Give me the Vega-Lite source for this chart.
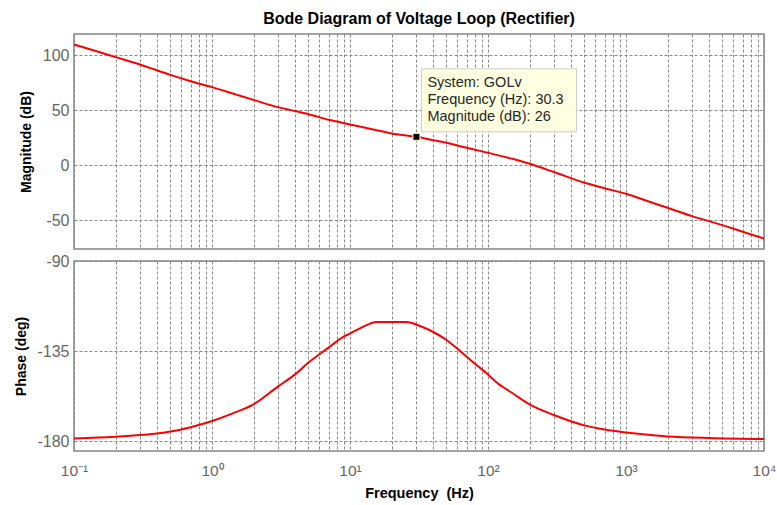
{
  "$schema": "https://vega.github.io/schema/vega-lite/v6.json",
  "background": "white",
  "padding": {"left": 13, "top": 10, "right": 0, "bottom": 0},
  "spacing": 12,
  "bounds": "flush",
  "datasets": {
    "magnitude": [
      {"f": 0.1, "mag": 110.0}, {"f": 0.15, "mag": 103.3}, {"f": 0.2, "mag": 98.5}, {"f": 0.3, "mag": 91.8},
      {"f": 0.5, "mag": 82.3}, {"f": 0.7, "mag": 76.6}, {"f": 1, "mag": 71.2}, {"f": 1.5, "mag": 64.4},
      {"f": 2, "mag": 59.6}, {"f": 3, "mag": 53.0}, {"f": 4, "mag": 49.5}, {"f": 5, "mag": 46.6},
      {"f": 7, "mag": 41.5}, {"f": 10, "mag": 37.3}, {"f": 15, "mag": 32.4}, {"f": 20, "mag": 29.1},
      {"f": 30.3, "mag": 26.0}, {"f": 40, "mag": 23.0}, {"f": 50, "mag": 20.6}, {"f": 70, "mag": 16.0},
      {"f": 100, "mag": 11.5}, {"f": 150, "mag": 6.0}, {"f": 200, "mag": 1.5}, {"f": 300, "mag": -6.0},
      {"f": 500, "mag": -15.8}, {"f": 700, "mag": -20.8}, {"f": 1000, "mag": -25.8}, {"f": 1500, "mag": -33.3},
      {"f": 2000, "mag": -38.5}, {"f": 3000, "mag": -46.1}, {"f": 5000, "mag": -54.3}, {"f": 7000, "mag": -60.3},
      {"f": 10000, "mag": -66.4}
    ],
    "phase": [
      {"f": 0.1, "ph": -178.7}, {"f": 0.2, "ph": -177.9}, {"f": 0.3, "ph": -177.0}, {"f": 0.4, "ph": -176.2},
      {"f": 0.5, "ph": -175.2}, {"f": 0.6, "ph": -174.2}, {"f": 0.8, "ph": -172.0}, {"f": 1, "ph": -170.0},
      {"f": 1.4, "ph": -166.3}, {"f": 2, "ph": -161.7}, {"f": 3, "ph": -152.8}, {"f": 4, "ph": -146.7},
      {"f": 5, "ph": -140.8}, {"f": 7, "ph": -133.3}, {"f": 9, "ph": -127.8}, {"f": 10, "ph": -126.3},
      {"f": 12, "ph": -123.4}, {"f": 15.6, "ph": -120.5}, {"f": 25.8, "ph": -120.5}, {"f": 32.1, "ph": -122.5},
      {"f": 40.2, "ph": -125.5}, {"f": 50, "ph": -129.5}, {"f": 62.7, "ph": -135.0}, {"f": 78.4, "ph": -140.8},
      {"f": 100, "ph": -146.7}, {"f": 118, "ph": -151.3}, {"f": 150, "ph": -156.0}, {"f": 200, "ph": -161.7},
      {"f": 300, "ph": -167.0}, {"f": 500, "ph": -172.2}, {"f": 700, "ph": -174.3}, {"f": 1000, "ph": -175.8},
      {"f": 2000, "ph": -177.7}, {"f": 4000, "ph": -178.5}, {"f": 10000, "ph": -179.0}
    ],
    "datatip": [
      {"f": 30.3, "mag": 26, "label": "System: GOLv\nFrequency (Hz): 30.3\nMagnitude (dB): 26"}
    ]
  },
  "config": {
    "font": "Liberation Sans",
    "view": {"stroke": "#858585", "strokeWidth": 1.5},
    "axis": {
      "domain": false,
      "grid": true,
      "gridColor": "#8a8a8a",
      "gridDash": [3, 2],
      "gridOpacity": 1,
      "gridWidth": 1,
      "ticks": false,
      "labelColor": "#666666",
      "labelFont": "Liberation Sans",
      "labelFontSize": 16,
      "titleFont": "Liberation Sans",
      "titleFontSize": 14,
      "titleFontWeight": "bold",
      "titleColor": "#000000"
    }
  },
  "vconcat": [
    {
      "width": 690,
      "height": 215,
      "title": {
        "text": "Bode Diagram of Voltage Loop (Rectifier)",
        "font": "Liberation Sans",
        "fontSize": 16,
        "fontWeight": "bold",
        "color": "#000000",
        "anchor": "middle",
        "frame": "group",
        "offset": 7
      },
      "layer": [
        {
          "data": {"name": "magnitude"},
          "mark": {"type": "line", "color": "#ff0000", "strokeWidth": 2, "interpolate": "monotone"},
          "encoding": {
            "x": {
              "field": "f", "type": "quantitative",
              "scale": {"type": "log", "domain": [0.1, 10000], "nice": false},
              "axis": {
                "title": null, "labels": false, "minExtent": 0, "maxExtent": 0,
                "values": [0.1,0.2,0.3,0.4,0.5,0.6,0.7,0.8,0.9,1,2,3,4,5,6,7,8,9,10,20,30,40,50,60,70,80,90,100,200,300,400,500,600,700,800,900,1000,2000,3000,4000,5000,6000,7000,8000,9000,10000]
              }
            },
            "y": {
              "field": "mag", "type": "quantitative",
              "scale": {"domain": [-76, 119.5], "nice": false, "zero": false},
              "axis": {"title": "Magnitude (dB)", "values": [-50, 0, 50, 100], "labelExpr": "'' + datum.value", "labelPadding": 5, "titlePadding": 9}
            }
          }
        },
        {
          "data": {"name": "datatip"},
          "mark": {"type": "rect", "fill": "#ffffe1", "stroke": "#cfcfc4", "strokeWidth": 1, "xOffset": 5, "x2Offset": 160, "yOffset": -68, "y2Offset": -5},
          "encoding": {
            "x": {"field": "f", "type": "quantitative"},
            "x2": {"field": "f"},
            "y": {"field": "mag", "type": "quantitative"},
            "y2": {"field": "mag"}
          }
        },
        {
          "data": {"name": "datatip"},
          "mark": {"type": "point", "shape": "square", "filled": true, "size": 49, "color": "#000000", "stroke": "#ffffc8", "strokeWidth": 1, "opacity": 1},
          "encoding": {
            "x": {"field": "f", "type": "quantitative"},
            "y": {"field": "mag", "type": "quantitative"}
          }
        },
        {
          "data": {"name": "datatip"},
          "mark": {"type": "text", "align": "left", "baseline": "alphabetic", "dx": 11, "dy": -50, "lineBreak": "\n", "lineHeight": 17.3, "fontSize": 14.5, "font": "Liberation Sans", "color": "#262626"},
          "encoding": {
            "x": {"field": "f", "type": "quantitative"},
            "y": {"field": "mag", "type": "quantitative"},
            "text": {"field": "label"}
          }
        }
      ]
    },
    {
      "width": 690,
      "height": 190,
      "data": {"name": "phase"},
      "mark": {"type": "line", "color": "#ff0000", "strokeWidth": 2, "interpolate": "monotone"},
      "encoding": {
        "x": {
          "field": "f", "type": "quantitative",
          "scale": {"type": "log", "domain": [0.1, 10000], "nice": false},
          "axis": {
            "title": "Frequency\u00a0 (Hz)",
            "titleFontSize": 14.5,
            "titlePadding": 8,
            "labelPadding": 12,
            "labelFontSize": 15.5,
            "labelOverlap": false,
            "labelFlush": false,
            "values": [0.1,0.2,0.3,0.4,0.5,0.6,0.7,0.8,0.9,1,2,3,4,5,6,7,8,9,10,20,30,40,50,60,70,80,90,100,200,300,400,500,600,700,800,900,1000,2000,3000,4000,5000,6000,7000,8000,9000,10000],
            "labelExpr": "datum.value == 0.1 ? '10⁻¹' : datum.value == 1 ? '10⁰' : datum.value == 10 ? '10¹' : datum.value == 100 ? '10²' : datum.value == 1000 ? '10³' : datum.value == 10000 ? '10⁴' : ''"
          }
        },
        "y": {
          "field": "ph", "type": "quantitative",
          "scale": {"domain": [-185, -90], "nice": false, "zero": false},
          "axis": {"title": "Phase (deg)", "values": [-180, -135, -90], "labelExpr": "'' + datum.value", "labelPadding": 5, "titlePadding": 8.5}
        }
      }
    }
  ]
}
